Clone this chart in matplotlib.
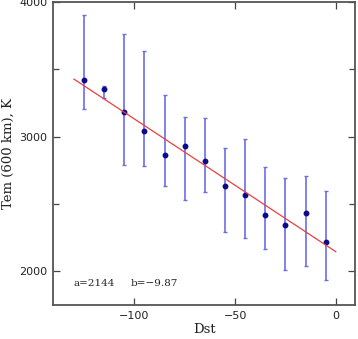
import matplotlib
matplotlib.use('Agg')
import matplotlib.pyplot as plt
import numpy as np
from matplotlib.ticker import MultipleLocator

# Data
dst = [-125, -115, -105, -95, -85, -75, -65, -55, -45, -35, -25, -15, -5]
tem = [3424, 3354, 3181, 3042, 2861, 2928, 2821, 2635, 2566, 2420, 2340, 2429, 2214]
err_up = [481, 25, 580, 593, 451, 216, 315, 280, 416, 352, 355, 278, 379]
err_dn = [221, 67, 395, 261, 231, 402, 233, 347, 317, 259, 335, 394, 278]

# Linear fit parameters shown on the chart
fit_a = 2144
fit_b = -9.87
fit_range = [-130, 0]

fig = plt.figure(figsize=(3.58, 3.39), dpi=100)
ax = fig.add_axes([0.148, 0.100, 0.844, 0.894])

ax.errorbar(dst, tem, yerr=[err_dn, err_up], fmt='none', ecolor='#6c6ce8',
            elinewidth=1.2, capsize=1.5, capthick=1.0, zorder=2)
ax.plot(dst, tem, 'o', color='#0a0a8a', markersize=3.2, zorder=3)

xf = np.array(fit_range)
ax.plot(xf, fit_a + fit_b * xf, color='#e84040', linewidth=0.9, zorder=4)

ax.text(-130, 1908, f'a={fit_a}', fontsize=7.5, family='DejaVu Serif',
        va='center', ha='left', color='#222222')
ax.text(-101.8, 1908, f'b=\u2212{abs(fit_b):.2f}', fontsize=7.5, family='DejaVu Serif',
        va='center', ha='left', color='#222222')

ax.set_xlim(-140.4, 9.6)
ax.set_ylim(1747, 4000)
ax.set_xticks([-100, -50, 0])
ax.set_yticks([2000, 3000, 4000])
ax.yaxis.set_minor_locator(MultipleLocator(500))

ax.tick_params(which='both', direction='in', top=True, right=True,
               labelsize=8, color='#444444', labelcolor='#222222', pad=4)
ax.tick_params(which='major', length=5, width=0.9)
ax.tick_params(which='minor', length=4, width=0.9)
for s in ax.spines.values():
    s.set_color('#555555')
    s.set_linewidth(1.3)

ax.set_xlabel('Dst', fontsize=9.5, family='DejaVu Serif', color='#222222', labelpad=2)
ax.set_ylabel('Tem (600 km), K', fontsize=9.5, family='DejaVu Serif', color='#222222',
              labelpad=3)

fig.savefig('out.png', dpi=100)
